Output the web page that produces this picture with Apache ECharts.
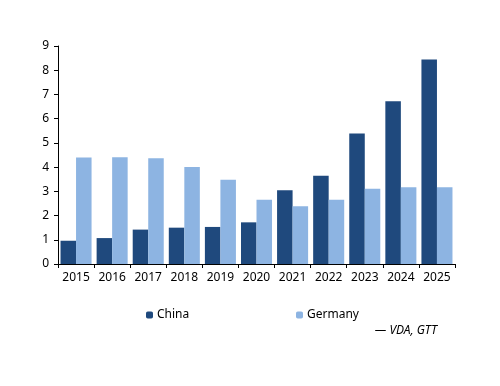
<!DOCTYPE html>
<html>
<head>
<meta charset="utf-8">
<script src="https://cdn.jsdelivr.net/npm/echarts@6/dist/echarts.min.js"></script>
<style>html,body{margin:0;padding:0;background:#fff}#c{width:500px;height:386px}</style>
</head>
<body>
<div id="c"></div>
<script>
const categories = ['2015','2016','2017','2018','2019','2020','2021','2022','2023','2024','2025'];
const china = [0.96, 1.07, 1.42, 1.50, 1.53, 1.72, 3.04, 3.64, 5.39, 6.72, 8.44];
const germany = [4.40, 4.41, 4.37, 4.00, 3.48, 2.65, 2.38, 2.65, 3.11, 3.17, 3.17];
const yTicks = [0,1,2,3,4,5,6,7,8,9];
const sourceText = '— VDA, GTT';

const font = 'Noto Sans';
const chart = echarts.init(document.getElementById('c'));
chart.setOption({
  animation: false,
  textStyle: {fontFamily: font},
  grid: {left: 58, right: 45, top: 46, bottom: 122},
  legend: [
    {data: ['China'], left: 141, top: 304, itemWidth: 7, itemHeight: 7, itemGap: 4,
     textStyle: {fontFamily: font, fontSize: 12, color: '#000', padding: [0,0,0,-1]}},
    {data: ['Germany'], left: 291, top: 304, itemWidth: 7, itemHeight: 7, itemGap: 4,
     textStyle: {fontFamily: font, fontSize: 12, color: '#000', padding: [0,0,0,-1]}}
  ],
  graphic: [{type: 'text', right: 63, top: 325,
    style: {text: sourceText, font: 'italic 12px ' + font, fill: '#000'}}],
  xAxis: {
    type: 'category', data: categories,
    axisLine: {lineStyle: {color: '#000', width: 1}},
    axisTick: {show: true, alignWithLabel: false, length: 4, lineStyle: {color: '#000'}},
    axisLabel: {color: '#000', fontSize: 12, margin: 8, fontFamily: font}
  },
  yAxis: {
    type: 'value', min: yTicks[0], max: yTicks[yTicks.length-1], interval: 1,
    axisLine: {show: true, lineStyle: {color: '#000', width: 1}},
    axisTick: {show: true, length: 4, lineStyle: {color: '#000'}},
    splitLine: {show: false},
    axisLabel: {color: '#000', fontSize: 12, margin: 9, fontFamily: font}
  },
  series: [
    {name: 'China', type: 'bar', data: china, barGap: '0%', barCategoryGap: '14%',
     itemStyle: {color: '#1f497d'}},
    {name: 'Germany', type: 'bar', data: germany,
     itemStyle: {color: '#8db4e2'}}
  ]
});
</script>
</body>
</html>
